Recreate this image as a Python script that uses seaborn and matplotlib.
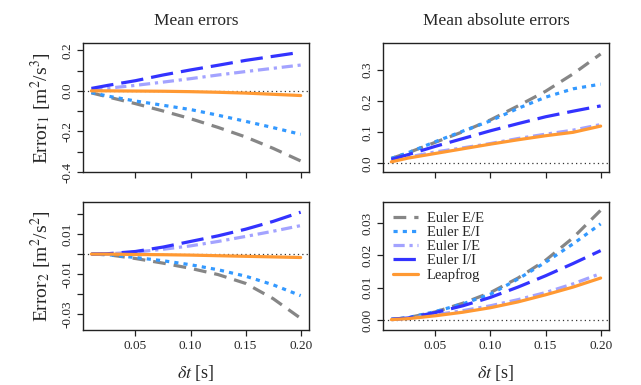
"""Mean / mean absolute errors of the time-stepping schemes vs. step size."""
import matplotlib

matplotlib.use("Agg")

import matplotlib.pyplot as plt  # noqa: E402
import pandas as pd  # noqa: E402
import seaborn as sns  # noqa: E402

# step sizes (s)
dt = [0.01, 0.025, 0.05, 0.075, 0.10, 0.125, 0.15, 0.175, 0.20]
methods = ["Euler E/E", "Euler E/I", "Euler I/E", "Euler I/I", "Leapfrog"]

# mean error 1
me1_ee = [-0.010, -0.030, -0.063, -0.099, -0.137, -0.180, -0.227, -0.283, -0.345]
me1_ei = [-0.008, -0.026, -0.050, -0.071, -0.092, -0.120, -0.150, -0.181, -0.214]
me1_ie = [0.005, 0.013, 0.027, 0.043, 0.060, 0.078, 0.095, 0.111, 0.127]
me1_ii = [0.012, 0.027, 0.050, 0.078, 0.103, 0.126, 0.150, 0.170, 0.190]
me1_lf = [0.0, 0.0, -0.001, -0.002, -0.004, -0.007, -0.011, -0.017, -0.023]

# mean absolute error 1
mae1_ee = [0.016, 0.034, 0.068, 0.102, 0.140, 0.185, 0.232, 0.288, 0.352]
mae1_ei = [0.016, 0.034, 0.070, 0.104, 0.137, 0.177, 0.213, 0.240, 0.255]
mae1_ie = [0.010, 0.020, 0.037, 0.050, 0.064, 0.080, 0.094, 0.107, 0.125]
mae1_ii = [0.013, 0.028, 0.055, 0.080, 0.105, 0.128, 0.150, 0.168, 0.185]
mae1_lf = [0.005, 0.017, 0.032, 0.047, 0.062, 0.076, 0.089, 0.100, 0.120]

# mean error 2
me2_ee = [0.0, -0.0003, -0.0022, -0.0045, -0.0071, -0.0102, -0.0146, -0.0222, -0.0320]
me2_ei = [0.0, -0.0003, -0.0017, -0.0033, -0.0053, -0.0078, -0.0110, -0.0153, -0.0207]
me2_ie = [0.0, 0.0001, 0.0010, 0.0024, 0.0041, 0.0063, 0.0088, 0.0114, 0.0142]
me2_ii = [0.0, 0.0002, 0.0013, 0.0035, 0.0063, 0.0091, 0.0124, 0.0163, 0.0209]
me2_lf = [0.0, 0.0, -0.0002, -0.0003, -0.0005, -0.0008, -0.0011, -0.0014, -0.0017]

# mean absolute error 2
mae2_ee = [0.0002, 0.0007, 0.0025, 0.0052, 0.0085, 0.0130, 0.0185, 0.0255, 0.0340]
mae2_ei = [0.0002, 0.0007, 0.0026, 0.0050, 0.0080, 0.0127, 0.0179, 0.0236, 0.0298]
mae2_ie = [0.0001, 0.0004, 0.0016, 0.0029, 0.0044, 0.0063, 0.0085, 0.0112, 0.0144]
mae2_ii = [0.0002, 0.0006, 0.0023, 0.0044, 0.0070, 0.0102, 0.0137, 0.0175, 0.0215]
mae2_lf = [0.0001, 0.0004, 0.0013, 0.0024, 0.0038, 0.0056, 0.0078, 0.0102, 0.0130]

palette = {
    "Euler E/E": "#868686",
    "Euler E/I": "#3399ff",
    "Euler I/E": "#a3a3ff",
    "Euler I/I": "#3333ff",
    "Leapfrog": "#ff9933",
}
dashes = {
    "Euler E/E": (4, 2.5),
    "Euler E/I": (1.3, 1.6),
    "Euler I/E": (3.5, 1.5, 1, 1.5),
    "Euler I/I": (7, 2.5),
    "Leapfrog": "",
}

sns.set_style("ticks")
plt.rcParams["font.family"] = ["Liberation Serif", "DejaVu Serif"]
plt.rcParams["mathtext.fontset"] = "stix"


def long_df(series):
    frames = [pd.DataFrame({"dt": dt, "value": s, "method": m})
              for m, s in zip(methods, series)]
    return pd.concat(frames, ignore_index=True)


panels = [
    ([me1_ee, me1_ei, me1_ie, me1_ii, me1_lf], [0.1295, 0.553, 0.3526, 0.335]),
    ([mae1_ee, mae1_ei, mae1_ie, mae1_ii, mae1_lf], [0.5975, 0.553, 0.3526, 0.335]),
    ([me2_ee, me2_ei, me2_ie, me2_ii, me2_lf], [0.1295, 0.143, 0.3526, 0.3325]),
    ([mae2_ee, mae2_ei, mae2_ie, mae2_ii, mae2_lf], [0.5975, 0.143, 0.3526, 0.3325]),
]
ylims = [(-0.40, 0.235), (-0.028, 0.387), (-0.0378, 0.026), (-0.0031, 0.0366)]
yticks = [
    [-0.4, -0.3, -0.2, -0.1, 0.0, 0.1, 0.2],
    [0.0, 0.1, 0.2, 0.3],
    [-0.03, -0.02, -0.01, 0.0, 0.01, 0.02],
    [0.0, 0.01, 0.02, 0.03],
]
ylabels_txt = [
    ["-0.4", "", "-0.2", "", "0.0", "", "0.2"],
    ["0.0", "0.1", "0.2", "0.3"],
    ["-0.03", "", "-0.01", "", "0.01", ""],
    ["0.00", "0.01", "0.02", "0.03"],
]
xticks = [0.05, 0.10, 0.15, 0.20]

fig = plt.figure(figsize=(6.41, 3.85), dpi=100)
axes = []
for i, (series, rect) in enumerate(panels):
    ax = fig.add_axes(rect)
    ax.axhline(0, color="#333333", lw=0.9, ls=(0, (1, 2.5)), zorder=1)
    sns.lineplot(data=long_df(series), x="dt", y="value", hue="method",
                 style="method", palette=palette, dashes=dashes,
                 linewidth=2.3, legend=(i == 3), ax=ax)
    ax.set_xlim(0.0024, 0.2076)
    ax.set_ylim(*ylims[i])
    ax.set_xticks(xticks)
    ax.set_yticks(yticks[i])
    ax.set_yticklabels(ylabels_txt[i], rotation=90, va="center")
    if i >= 2:
        ax.set_xticklabels(["0.05", "0.10", "0.15", "0.20"])
        ax.set_xlabel(r"$\delta t$ [s]", fontsize=13, labelpad=8)
    else:
        ax.set_xticklabels([])
        ax.set_xlabel("")
    ax.set_ylabel("")
    ax.tick_params(labelsize=9.5, length=4, width=0.9, color="#222222", pad=3)
    for sp in ax.spines.values():
        sp.set_visible(True)
        sp.set_linewidth(1.0)
        sp.set_color("#222222")
    axes.append(ax)

axes[0].set_title("Mean errors", fontsize=12.5, pad=13)
axes[1].set_title("Mean absolute errors", fontsize=12.5, pad=13)
axes[0].set_ylabel(r"Error$_1$ [m$^2$/s$^3$]", fontsize=14, labelpad=5)
axes[2].set_ylabel(r"Error$_2$ [m$^2$/s$^2$]", fontsize=14, labelpad=5)

leg = axes[3].legend(loc="upper left", frameon=False, fontsize=10.5,
                     handlelength=1.7, handletextpad=0.6, labelspacing=0.05,
                     borderaxespad=0.3)
for line in leg.get_lines():
    line.set_linewidth(2.3)

fig.savefig("out.png", dpi=100)
